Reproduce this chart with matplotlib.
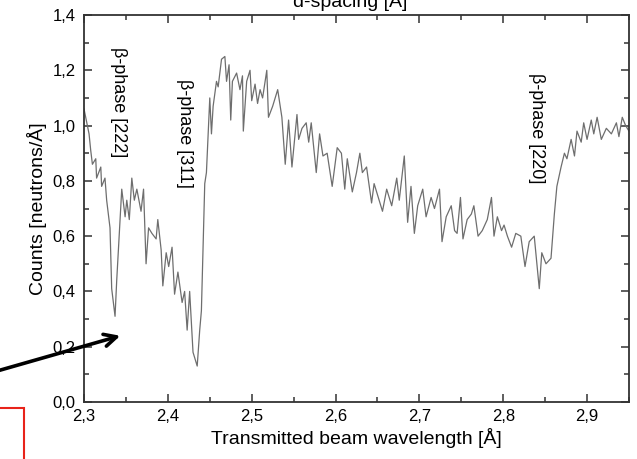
import matplotlib
matplotlib.use('Agg')
import matplotlib.pyplot as plt
from matplotlib.ticker import MultipleLocator, FuncFormatter
from matplotlib.patches import Rectangle

plt.rcParams['font.family'] = ['Liberation Sans', 'DejaVu Sans']

# transmitted spectrum, wavelength in Angstrom
wavelength = [2.300, 2.306, 2.308, 2.310, 2.314, 2.315, 2.320, 2.321, 2.325, 2.327,
              2.331, 2.333, 2.337, 2.339, 2.343, 2.345, 2.349, 2.351, 2.354, 2.357,
              2.360, 2.363, 2.368, 2.371, 2.374, 2.377, 2.381, 2.386, 2.388, 2.392,
              2.394, 2.398, 2.401, 2.405, 2.408, 2.412, 2.417, 2.420, 2.423, 2.426,
              2.430, 2.435, 2.438, 2.440, 2.444, 2.446, 2.450, 2.452, 2.454, 2.458,
              2.460, 2.464, 2.468, 2.470, 2.473, 2.475, 2.477, 2.482, 2.486, 2.489,
              2.490, 2.494, 2.498, 2.500, 2.504, 2.507, 2.510, 2.513, 2.518, 2.520,
              2.525, 2.531, 2.536, 2.540, 2.544, 2.548, 2.554, 2.556, 2.560, 2.565,
              2.568, 2.571, 2.577, 2.581, 2.585, 2.590, 2.596, 2.602, 2.607, 2.611,
              2.614, 2.620, 2.625, 2.629, 2.632, 2.637, 2.643, 2.646, 2.652, 2.656,
              2.661, 2.667, 2.673, 2.676, 2.682, 2.686, 2.690, 2.694, 2.698, 2.704,
              2.708, 2.714, 2.718, 2.724, 2.727, 2.732, 2.738, 2.742, 2.745, 2.749,
              2.752, 2.757, 2.762, 2.765, 2.770, 2.775, 2.781, 2.786, 2.789, 2.793,
              2.798, 2.801, 2.805, 2.810, 2.815, 2.821, 2.826, 2.831, 2.837, 2.843,
              2.846, 2.851, 2.857, 2.861, 2.864, 2.869, 2.873, 2.876, 2.881, 2.885,
              2.888, 2.893, 2.896, 2.900, 2.905, 2.908, 2.912, 2.917, 2.923, 2.929,
              2.935, 2.938, 2.942, 2.946, 2.950]
counts = [1.06, 0.97, 0.91, 0.86, 0.88, 0.81, 0.85, 0.78, 0.81, 0.73,
          0.63, 0.41, 0.31, 0.44, 0.66, 0.77, 0.67, 0.73, 0.66, 0.81,
          0.73, 0.77, 0.69, 0.77, 0.50, 0.63, 0.61, 0.59, 0.66, 0.55,
          0.42, 0.54, 0.49, 0.56, 0.39, 0.47, 0.36, 0.40, 0.26, 0.40,
          0.18, 0.13, 0.26, 0.33, 0.79, 0.83, 1.10, 0.97, 1.07, 1.16,
          1.14, 1.24, 1.25, 1.16, 1.22, 1.02, 1.16, 1.19, 1.13, 1.18,
          0.98, 1.16, 1.20, 1.09, 1.15, 1.08, 1.13, 1.10, 1.20, 1.03,
          1.07, 1.13, 1.03, 0.86, 1.02, 0.85, 1.04, 0.95, 0.99, 1.01,
          0.94, 1.01, 0.83, 0.97, 0.89, 0.90, 0.78, 0.92, 0.90, 0.77,
          0.88, 0.76, 0.83, 0.90, 0.83, 0.85, 0.72, 0.79, 0.73, 0.69,
          0.77, 0.71, 0.81, 0.73, 0.89, 0.65, 0.78, 0.61, 0.71, 0.77,
          0.67, 0.74, 0.70, 0.77, 0.58, 0.67, 0.71, 0.62, 0.61, 0.74,
          0.59, 0.66, 0.68, 0.71, 0.60, 0.62, 0.66, 0.74, 0.60, 0.67,
          0.62, 0.64, 0.60, 0.56, 0.61, 0.60, 0.49, 0.58, 0.60, 0.41,
          0.54, 0.50, 0.52, 0.68, 0.78, 0.85, 0.90, 0.88, 0.95, 0.89,
          0.98, 0.94, 1.01, 0.95, 1.02, 0.97, 1.03, 0.95, 0.99, 0.97,
          1.01, 0.96, 1.03, 1.00, 0.98]

# reflection labels: text, wavelength, height
peak_labels = ['\u03b2-phase [222]', '\u03b2-phase [311]', '\u03b2-phase [220]']
peak_x = [2.341, 2.420, 2.840]
peak_y = [1.085, 0.97, 0.99]

fig = plt.figure(figsize=(6.37, 4.59), dpi=100)
ax = fig.add_axes([0.1319, 0.1242, 0.8555, 0.8431])

ax.plot(wavelength, counts, color='#6e6e6e', lw=0.9)

for txt, x, y in zip(peak_labels, peak_x, peak_y):
    ax.text(x, y, txt, rotation=-90, ha='center', va='center', fontsize=13)

ax.set_xlim(2.3, 2.95)
ax.set_ylim(0.0, 1.4)
ax.xaxis.set_major_locator(MultipleLocator(0.1))
ax.xaxis.set_minor_locator(MultipleLocator(0.05))
ax.yaxis.set_major_locator(MultipleLocator(0.2))
ax.yaxis.set_minor_locator(MultipleLocator(0.1))

comma = FuncFormatter(lambda v, pos: ('%.1f' % v).replace('.', ','))
ax.xaxis.set_major_formatter(comma)
ax.yaxis.set_major_formatter(comma)

ax.tick_params(which='both', direction='in', top=True, right=True,
               labelsize=12, width=1.1, color='#333333')
ax.tick_params(which='major', length=6)
ax.tick_params(which='minor', length=3.5)
ax.tick_params(axis='y', pad=6)
ax.tick_params(axis='x', pad=5)
for s in ax.spines.values():
    s.set_linewidth(1.3)
    s.set_color('#333333')

ax.set_xlabel('Transmitted beam wavelength [\u00c5]', fontsize=14, labelpad=3)
ax.set_ylabel('Counts [neutrons/\u00c5]', fontsize=14, labelpad=4)

# top axis title, mostly cut off by the figure edge
fig.text(0.55, 0.985, 'd-spacing [\u00c5]', ha='center', va='baseline', fontsize=14)

# pointer arrow and red frame
ax.annotate('', xy=(123 / 637, 1 - 335 / 459), xycoords='figure fraction',
            xytext=(-0.01, 1 - 372 / 459), textcoords='figure fraction',
            arrowprops=dict(arrowstyle='->', lw=2.6, color='black', mutation_scale=22))
fig.patches.append(Rectangle((-0.02, -0.02), 24 / 637 + 0.02, 0.02 + 51 / 459,
                             transform=fig.transFigure, fill=False,
                             edgecolor='#e8231a', lw=1.5))

fig.savefig('out.png', dpi=100)
